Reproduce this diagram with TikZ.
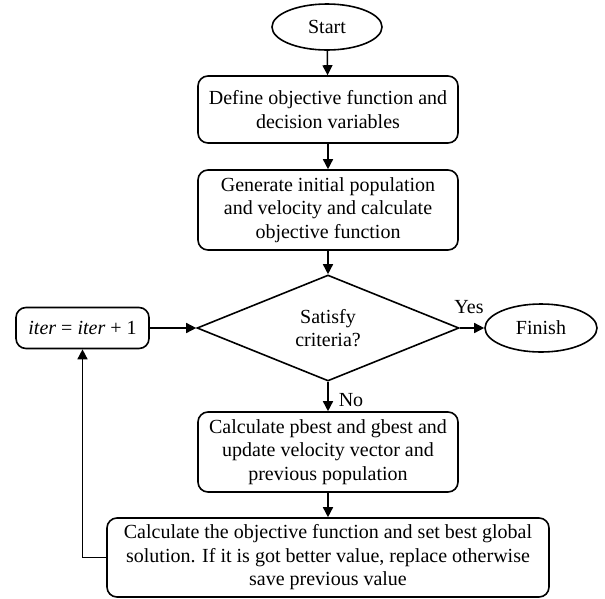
\documentclass[tikz,border=0pt]{standalone}
\usepackage{fontspec}
\setmainfont{Liberation Serif}
\usetikzlibrary{shapes.geometric,arrows.meta}
\begin{document}
\begin{tikzpicture}[x=1pt,y=-1pt,
  every node/.style={font=\fontsize{20}{23.5}\selectfont},
  base/.style={draw, line width=1.6pt, inner sep=0pt, align=center},
  procbox/.style={base, rectangle, rounded corners=10pt},
  term/.style={base, ellipse},
  decision/.style={base, diamond},
  arr/.style={-{Triangle[length=10pt,width=10pt]}, line width=1.5pt},
  lbl/.style={inner sep=0pt}
]
\useasboundingbox (0,0) rectangle (605,598);
\node[term, minimum width=110pt, minimum height=46pt] (start) at (327,27) {Start};
\node[procbox, minimum width=260pt, minimum height=67pt] (b1) at (328,109.5) {Define objective function and\\decision variables};
\node[procbox, minimum width=260pt, minimum height=80pt] (b2) at (328,210) {Generate initial population\\and velocity and calculate\\objective function};
\node[decision, minimum width=262pt, minimum height=106pt] (dec) at (328,328) {Satisfy\\criteria?};
\node[term, minimum width=112pt, minimum height=48pt] (fin) at (541,328) {Finish};
\node[procbox, minimum width=133pt, minimum height=41pt] (iter) at (82.5,328) {\textit{iter} = \textit{iter} + 1};
\node[procbox, minimum width=260pt, minimum height=80pt] (b3) at (328,452) {Calculate pbest and gbest and\\update velocity vector and\\previous population};
\node[procbox, minimum width=442pt, minimum height=79pt] (b4) at (328,557.5) {Calculate the objective function and set best global\\solution. If it is got better value, replace otherwise\\save previous value};
\node[lbl] (yes) at (469,307) {Yes};
\node[lbl] (no) at (351,400) {No};
\draw[arr] (start) -- (b1);
\draw[arr] (b1) -- (b2);
\draw[arr] (b2) -- (dec);
\draw[arr] (dec.east) -- (fin.west);
\draw[arr] (iter.east) -- (dec.west);
\draw[arr] (dec.south) -- (b3.north);
\draw[arr] (b3) -- (b4);
\draw[arr] (b4.west) -| (iter.south);
\end{tikzpicture}
\end{document}
